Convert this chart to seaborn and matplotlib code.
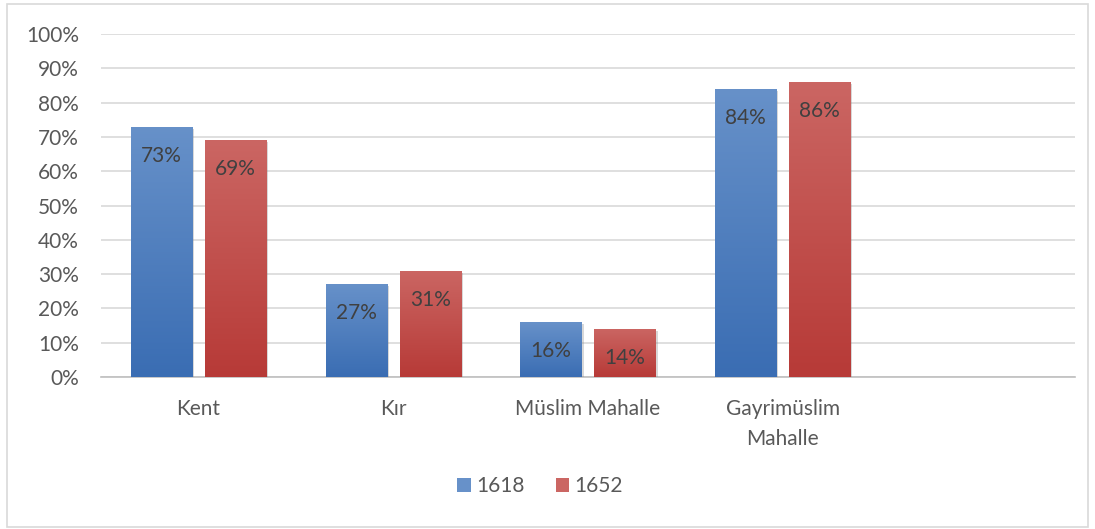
import numpy as np
import pandas as pd
import matplotlib
matplotlib.use('Agg')
import matplotlib.pyplot as plt
import seaborn as sns
from matplotlib.patches import Rectangle, Patch
from matplotlib import patheffects
from matplotlib.colors import LinearSegmentedColormap

# Chart data
categories = ['Kent', 'Kır', 'Müslim Mahalle', 'Gayrimüslim\nMahalle']
years = ['1618', '1652']
values_1618 = [73, 27, 16, 84]
values_1652 = [69, 31, 14, 86]

# Colours (Excel style, gradient from top to bottom)
COLORS = {'1618': ('#6791C9', '#3A6DB3'), '1652': ('#CB6663', '#B73A37')}
TEXT = '#595959'
FS = 15

sns.set_style('white')
plt.rcParams['font.family'] = ['Lato', 'DejaVu Sans']


def main():

    # Build a long DataFrame from the lists
    rows = {'Kategori': [], 'Yıl': [], 'Oran': []}
    for year, vals in zip(years, [values_1618, values_1652]):
        for cat, v in zip(categories, vals):
            rows['Kategori'].append(cat)
            rows['Yıl'].append(year)
            rows['Oran'].append(v)
    df = pd.DataFrame(rows)

    fig = plt.figure(figsize=(10.95, 5.29), dpi=100)
    ax = fig.add_axes([101 / 1095, 1 - 377 / 529, 974 / 1095, 343 / 529])

    palette = {y: COLORS[y][1] for y in years}
    sns.barplot(data=df, x='Kategori', y='Oran', hue='Yıl', order=categories,
                hue_order=years, palette=palette, width=0.76, gap=0.175,
                errorbar=None, legend=False, ax=ax, zorder=3)

    # Gradient fill, soft shadow and labels for each bar
    for year, container in zip(years, ax.containers):
        top, bottom = COLORS[year]
        cmap = LinearSegmentedColormap.from_list(year, [bottom, top])
        grad = np.linspace(0, 1, 256).reshape(-1, 1)
        for bar in container:
            x0, y0 = bar.get_x(), bar.get_y()
            w, h = bar.get_width(), bar.get_height()
            bar.set_path_effects([patheffects.SimplePatchShadow(
                offset=(1.5, -1.5), alpha=0.3, shadow_rgbFace='#7F7F7F'),
                patheffects.Normal()])
            bar.set_edgecolor('none')
            im = ax.imshow(grad, cmap=cmap, aspect='auto', origin='lower',
                           extent=(x0, x0 + w, y0, y0 + h), zorder=4)
            im.set_clip_path(bar)
            ax.annotate(f'{h:.0f}%', (x0 + w / 2, y0 + h),
                        xytext=(0, -29), textcoords='offset pixels',
                        ha='center', va='center', fontsize=FS,
                        color='#404040', zorder=5)

    # Axes formatting
    ax.set_xlim(-0.5, 4.5)
    ax.set_ylim(0, 100)
    ax.set_yticks(range(0, 101, 10))
    ax.set_yticklabels([f'{t}%' for t in range(0, 101, 10)])
    ax.yaxis.grid(True, color='#D9D9D9', linewidth=1.2, zorder=0)
    ax.set_axisbelow(True)
    for side in ['top', 'right', 'left']:
        ax.spines[side].set_visible(False)
    ax.spines['bottom'].set_color('#BFBFBF')
    ax.spines['bottom'].set_linewidth(1.2)
    ax.tick_params(axis='y', length=0, pad=16, labelsize=FS,
                   labelcolor=TEXT)
    ax.tick_params(axis='x', length=0, pad=16, labelsize=FS,
                   labelcolor=TEXT)
    for lab in ax.get_xticklabels():
        lab.set_linespacing(1.6)
    ax.set_xlabel('')
    ax.set_ylabel('')

    # Legend below the plot
    handles = [Patch(facecolor=COLORS[y][0], edgecolor='none') for y in years]
    fig.legend(handles, years, loc='center', ncol=2, frameon=False,
               bbox_to_anchor=(540 / 1095, 1 - 486 / 529), fontsize=FS,
               handlelength=0.65, handleheight=0.65, handletextpad=0.25,
               columnspacing=1.5, labelcolor=TEXT)

    # Outer chart border
    fig.patches.append(Rectangle((7 / 1095, 2 / 529), 1081 / 1095,
                                 523 / 529, transform=fig.transFigure,
                                 fill=False, edgecolor='#D9D9D9',
                                 linewidth=1.2))

    fig.savefig('out.png', dpi=100)
    plt.close()


if __name__ == '__main__':
    main()
